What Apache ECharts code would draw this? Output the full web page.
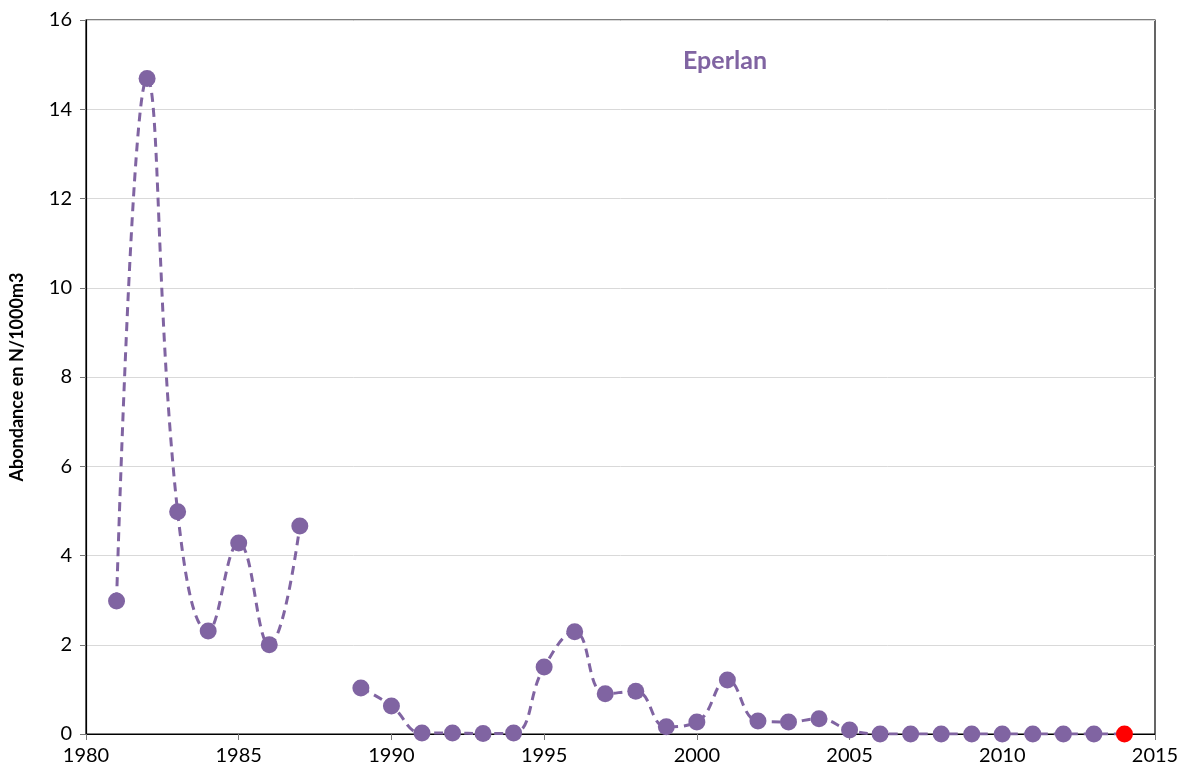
<!DOCTYPE html>
<html>
<head>
<meta charset="utf-8">
<script src="https://cdn.jsdelivr.net/npm/echarts@6/dist/echarts.min.js"></script>
<style>html,body{margin:0;padding:0;background:#fff}#c{width:1184px;height:776px}</style>
</head>
<body>
<div id="c"></div>
<script>
const years = [1981,1982,1983,1984,1985,1986,1987,1988,1989,1990,1991,1992,1993,1994,1995,1996,1997,1998,1999,2000,2001,2002,2003,2004,2005,2006,2007,2008,2009,2010,2011,2012,2013,2014];
const values = [2.98,14.69,4.98,2.31,4.28,2.0,4.66,null,1.03,0.63,0.02,0.02,0.01,0.02,1.5,2.29,0.9,0.96,0.16,0.27,1.21,0.29,0.27,0.34,0.09,0,0,0,0,0,0,0,0,0];
const highlightYear = 2014;
const titleText = 'Eperlan';
const yAxisName = 'Abondance en N/1000m3';

const purple = '#8064A2';
const data = years.map((y, i) => {
  const v = values[i];
  const item = { value: [y, v == null ? '-' : v] };
  if (y === highlightYear) item.itemStyle = { color: '#FF0000' };
  return item;
});

const chart = echarts.init(document.getElementById('c'));
chart.setOption({
  animation: false,
  backgroundColor: '#fff',
  title: {
    text: titleText, left: 720, top: 43, textAlign: 'center',
    textStyle: { color: purple, fontSize: 25, fontWeight: 'bold', fontFamily: 'Lato' }
  },
  grid: { left: 84, right: 29, top: 20, bottom: 42, show: true, borderColor: '#000', borderWidth: 1.2, backgroundColor: 'transparent' },
  xAxis: {
    type: 'value', min: 1980, max: 2015, interval: 5,
    axisLine: { show: true, lineStyle: { color: '#000', width: 1.2 } },
    axisTick: { show: true, length: 6, lineStyle: { color: '#777' } },
    splitLine: { show: false },
    axisLabel: { color: '#000', fontSize: 20, fontFamily: 'Lato', margin: 12, formatter: v => String(v) }
  },
  yAxis: {
    type: 'value', min: 0, max: 16, interval: 2,
    name: yAxisName, nameLocation: 'middle', nameGap: 60, nameRotate: 90,
    nameTextStyle: { color: '#000', fontSize: 18, fontWeight: 'bold', fontFamily: 'Lato' },
    axisLine: { show: true, lineStyle: { color: '#000', width: 1.2 } },
    axisTick: { show: true, length: 6, lineStyle: { color: '#777' } },
    splitLine: { show: true, lineStyle: { color: '#d9d9d9', width: 1 } },
    axisLabel: { color: '#000', fontSize: 20, fontFamily: 'Lato', margin: 14 }
  },
  series: [{
    type: 'line',
    data: data,
    smooth: 0.45,
    connectNulls: false,
    symbol: 'circle', symbolSize: 17,
    itemStyle: { color: purple },
    lineStyle: { color: purple, width: 3, type: [9, 6] }
  }]
});
</script>
</body>
</html>
